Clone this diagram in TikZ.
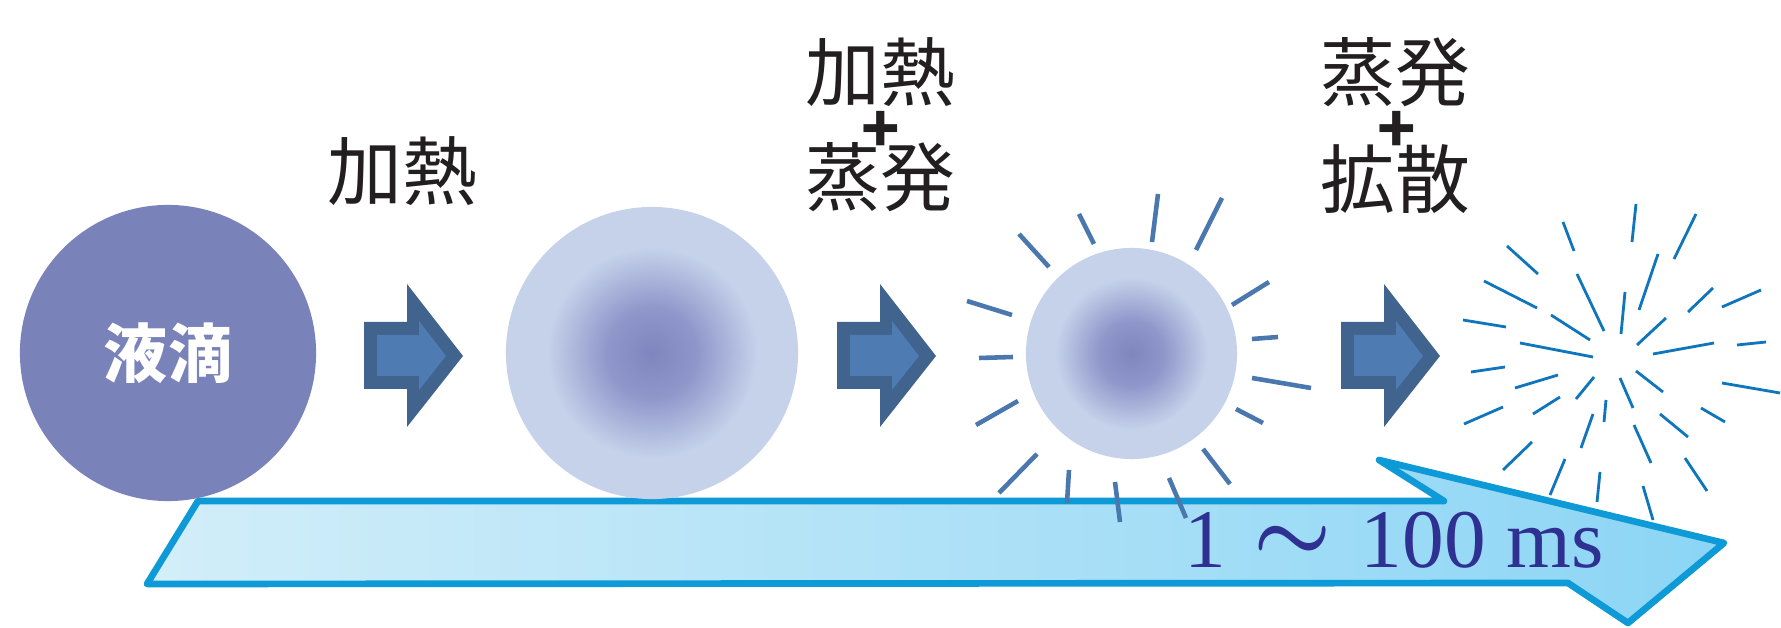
\documentclass[tikz,border=0pt]{standalone}
\usepackage{fontspec}
\setmainfont{Liberation Serif}
\newfontfamily\jpfont{Noto Sans CJK JP}

\definecolor{dropfill}{HTML}{7A83B9}
\definecolor{glowcore}{HTML}{7E86BD}
\definecolor{glowmid}{HTML}{8E96CA}
\definecolor{glowrim}{HTML}{C5D2EA}
\definecolor{arrowedge}{HTML}{41648F}
\definecolor{arrowface}{HTML}{4E7BB1}
\definecolor{raycol}{HTML}{4A77AE}
\definecolor{burstcol}{HTML}{0F75BC}
\definecolor{bandline}{HTML}{0E9AD7}
\definecolor{bandlight}{HTML}{D2EEF9}
\definecolor{banddark}{HTML}{8CD5F5}
\definecolor{timecol}{HTML}{2E3192}
\definecolor{labelcol}{HTML}{231F20}

% soft core of a heated droplet
\pgfdeclareradialshading{dropglow}{\pgfpoint{0bp}{0bp}}{color(0bp)=(glowcore); color(7.5bp)=(glowmid); color(18bp)=(glowrim); color(50bp)=(glowrim)}

% fat step arrow, #1 = left edge
\newcommand{\stagearrow}[1]{%
  \begin{scope}[shift={(#1,0)}]
    \fill[arrowedge] (0,322) -- (43,322) -- (43,284) -- (99,356) -- (43,427) -- (43,389) -- (0,389) -- cycle;
    \fill[arrowface] (13,335) -- (55,335) -- (55,321) -- (82,356) -- (55,390) -- (55,376) -- (13,376) -- cycle;
  \end{scope}}

\begin{document}
\begin{tikzpicture}[x=0.01cm,y=-0.01cm]
    \tikzstyle{stagelabel}=[font=\jpfont\fontsize{21.3pt}{22pt}\selectfont,text=labelcol,inner sep=0pt]
    \tikzstyle{plus}=[font=\jpfont\bfseries\fontsize{18pt}{18pt}\selectfont,text=labelcol,inner sep=0pt]
    \tikzstyle{blob}=[circle,inner sep=0pt]
    \tikzstyle{ray}=[raycol,line width=1.3pt]
    \tikzstyle{spark}=[burstcol,line width=0.8pt]
    \useasboundingbox (0,0) rectangle (1781,628);

    % time band
    \draw[line width=1.9pt,line join=round,draw=bandline,left color=bandlight,right color=banddark]
        (198,501) -- (1444,501) -- (1379,460) -- (1724,543) -- (1628,623) -- (1568,583) -- (147,584) -- cycle;

    \node[blob,fill=dropfill,minimum size=2.96cm] (drop) at (168,353)
        {\jpfont\bfseries\fontsize{18.2pt}{19pt}\selectfont\color{white}液滴};
    \node[blob,shading=dropglow,minimum size=2.92cm] (heated) at (652,353) {};
    \node[blob,shading=dropglow,minimum size=2.11cm] (shrunk) at (1131.5,353.5) {};

    \stagearrow{364}
    \stagearrow{837}
    \stagearrow{1341}

    % rays round the shrinking drop
    \foreach \xa/\ya/\xb/\yb in {1158/194/1152/242, 1222/198/1196/250, 1079/214/1094/244,
        1019/234/1049/267, 1269/282/1232/305, 967/301/1012/315, 1278/337/1252/339,
        979/358/1013/357, 1252/378/1311/388, 1018/401/976/425, 1236/409/1263/423,
        1037/454/999/493, 1203/449/1230/484, 1069/470/1067/503, 1115/482/1120/522,
        1169/478/1186/518}
        \draw[ray] (\xa,\ya) -- (\xb,\yb);

    % vapour burst
    \foreach \xa/\ya/\xb/\yb in {1636/204/1632/242, 1696/214/1674/259, 1563/222/1574/251,
        1507/246/1538/274, 1658/254/1639/310, 1577/274/1604/331, 1484/281/1537/308,
        1625/292/1621/334, 1713/288/1688/312, 1761/290/1722/307, 1463/320/1506/327,
        1551/315/1590/340, 1666/318/1637/345, 1520/343/1593/357, 1714/343/1653/354,
        1766/342/1737/345, 1471/372/1505/367, 1558/375/1515/388, 1594/377/1576/399,
        1620/378/1633/408, 1636/371/1663/392, 1722/383/1780/393, 1560/397/1533/414,
        1503/407/1464/424, 1606/400/1604/422, 1701/408/1725/422, 1593/414/1581/448,
        1660/414/1688/437, 1634/425/1651/463, 1532/442/1503/470, 1685/458/1707/491,
        1565/459/1550/495, 1600/472/1597/502, 1643/486/1653/520}
        \draw[spark] (\xa,\ya) -- (\xb,\yb);

    \node[stagelabel] (heat) at (402,171) {加熱};

    \node[stagelabel] (heatA) at (880,72) {加熱};
    \node[plus] (plusA) at (881,132) {+};
    \node[stagelabel] (evapA) at (880,177) {蒸発};

    \node[stagelabel] (evapB) at (1395,72) {蒸発};
    \node[plus] (plusB) at (1397,132) {+};
    \node[stagelabel] (diffB) at (1395,179) {拡散};

    \node[anchor=base west,inner sep=0pt,text=timecol,font=\fontsize{23.7pt}{25pt}\selectfont] (span)
        at (1184,568) {1\hspace{0.27cm}\raisebox{0.07cm}{\fontsize{26.2pt}{27pt}\selectfont\boldmath$\sim$}\hspace{0.29cm}100 ms};
\end{tikzpicture}
\end{document}
